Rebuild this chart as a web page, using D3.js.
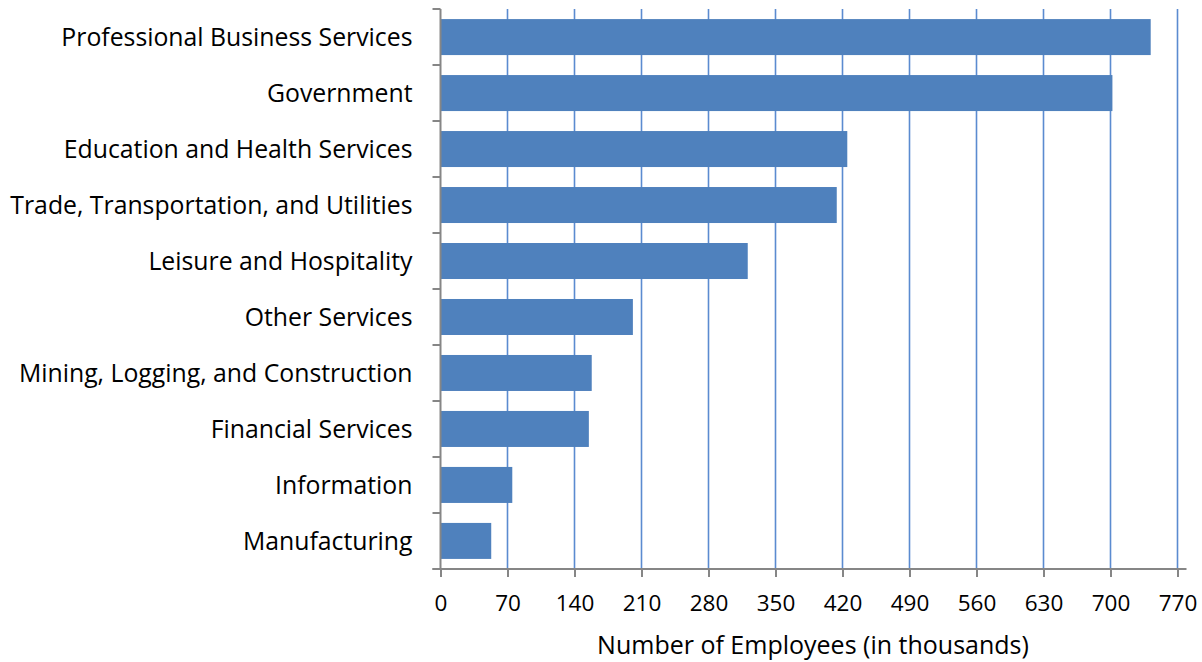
<!DOCTYPE html>
<html>
<head>
<meta charset="utf-8">
<script src="https://cdn.jsdelivr.net/npm/d3@7"></script>
<style>
  html, body { margin: 0; padding: 0; background: #fff; }
  svg { display: block; }
  text { font-family: "Open Sans", "Noto Sans", sans-serif; fill: #000; }
</style>
</head>
<body>
<svg id="chart" width="1202" height="662"></svg>
<script>
// Employment by industry, in thousands
const categories = [
  "Professional Business Services",
  "Government",
  "Education and Health Services",
  "Trade, Transportation, and Utilities",
  "Leisure and Hospitality",
  "Other Services",
  "Mining, Logging, and Construction",
  "Financial Services",
  "Information",
  "Manufacturing"
];
const employees = [742, 702, 425, 414, 321, 201, 158, 155, 75, 53];
const xTicks = [0, 70, 140, 210, 280, 350, 420, 490, 560, 630, 700, 770];
const xTitle = "Number of Employees (in thousands)";

(function draw() {
  const svg = d3.select("#chart");
  const plotLeft = 440.5, plotRight = 1177.5, plotTop = 9, plotBottom = 569;

  const x = d3.scaleLinear().domain([0, 770]).range([plotLeft, plotRight]);
  const y = d3.scaleBand().domain(categories).range([plotTop, plotBottom])
    .paddingInner(0.357).paddingOuter(0.18);

  const labelSize = 24.8, tickSize = 22.5, titleSize = 25;

  // vertical gridlines
  svg.append("g").selectAll("line").data(xTicks.filter(d => d > 0)).join("line")
    .attr("x1", d => x(d)).attr("x2", d => x(d))
    .attr("y1", plotTop).attr("y2", plotBottom)
    .attr("stroke", "#5b8bd0").attr("stroke-width", 1.6);

  // bars
  svg.append("g").selectAll("rect").data(categories).join("rect")
    .attr("x", x(0))
    .attr("y", d => y(d))
    .attr("width", (d, i) => x(employees[i]) - x(0))
    .attr("height", y.bandwidth())
    .attr("fill", "#4f81bd");

  // x axis
  const xAxis = svg.append("g").attr("transform", `translate(0,${plotBottom})`)
    .call(d3.axisBottom(x).tickValues(xTicks).tickSize(8).tickPadding(18).tickSizeOuter(0));
  xAxis.select(".domain").attr("stroke", "#868686").attr("stroke-width", 2)
    .attr("d", `M${plotLeft - 8},0H${plotRight + 9}`);
  xAxis.selectAll(".tick line").attr("stroke", "#868686").attr("stroke-width", 2);
  xAxis.selectAll(".tick text").style("font-size", tickSize + "px")
    .style("font-family", '"Open Sans", "Noto Sans", sans-serif').attr("fill", "#000");

  // y axis with ticks at band boundaries
  const yAxisG = svg.append("g");
  yAxisG.append("line").attr("x1", plotLeft).attr("x2", plotLeft)
    .attr("y1", plotTop).attr("y2", plotBottom)
    .attr("stroke", "#868686").attr("stroke-width", 2);
  const boundaries = d3.range(categories.length + 1)
    .map(i => plotTop + i * (plotBottom - plotTop) / categories.length);
  yAxisG.selectAll("line.tk").data(boundaries).join("line").attr("class", "tk")
    .attr("x1", plotLeft - 8).attr("x2", plotLeft).attr("y1", d => d).attr("y2", d => d)
    .attr("stroke", "#868686").attr("stroke-width", 2);
  yAxisG.selectAll("text").data(categories).join("text")
    .attr("x", plotLeft - 28)
    .attr("y", d => y(d) + y.bandwidth() / 2)
    .attr("dy", "0.37em")
    .attr("text-anchor", "end")
    .style("font-size", labelSize + "px")
    .text(d => d);

  // axis title
  svg.append("text")
    .attr("x", (plotLeft + plotRight) / 2 + 4)
    .attr("y", 654)
    .attr("text-anchor", "middle")
    .style("font-size", titleSize + "px")
    .text(xTitle);
})();
</script>
</body>
</html>
